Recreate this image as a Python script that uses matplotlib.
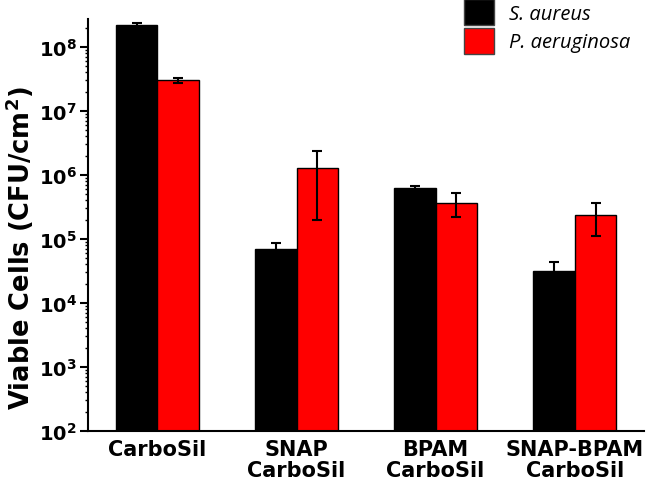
import numpy as np
import matplotlib.pyplot as plt
from matplotlib.ticker import LogLocator, FuncFormatter, NullFormatter
from matplotlib.patches import Patch

plt.rcParams['font.family'] = 'DejaVu Sans'
plt.rcParams['mathtext.fontset'] = 'custom'
plt.rcParams['mathtext.rm'] = 'DejaVu Sans:bold'
plt.rcParams['mathtext.bf'] = 'DejaVu Sans:bold'

groups = ['CarboSil', 'SNAP\nCarboSil', 'BPAM\nCarboSil', 'SNAP-BPAM\nCarboSil']
series = ['S. aureus', 'P. aeruginosa']
aureus = [2.2e8, 6.9e4, 6.2e5, 3.2e4]
aureus_err = [0.15e8, 1.8e4, 0.5e5, 1.2e4]
aerug = [3.0e7, 1.3e6, 3.7e5, 2.4e5]
aerug_err = [0.3e7, 1.1e6, 1.5e5, 1.3e5]

fig = plt.figure(figsize=(6.56, 4.81), dpi=100)
ax = fig.add_axes([0.134, 0.102, 0.848, 0.856])

x = np.arange(len(groups))
w = 0.3
errkw = dict(ecolor='black', elinewidth=1.5, capsize=3.5, capthick=1.5)
ax.bar(x - w/2, aureus, w, color='black', edgecolor='black', linewidth=1,
       yerr=aureus_err, error_kw=errkw, zorder=2)
ax.bar(x + w/2, aerug, w, color='#ff0000', edgecolor='black', linewidth=1,
       yerr=aerug_err, error_kw=errkw, zorder=2)

ax.set_yscale('log')
ax.set_ylim(1e2, 2.7e8)
ax.set_xlim(-0.5, 3.5)
ax.yaxis.set_major_locator(LogLocator(base=10, numticks=20))
ax.yaxis.set_minor_locator(LogLocator(base=10, subs=np.arange(2, 10), numticks=20))
ax.yaxis.set_major_formatter(FuncFormatter(lambda v, p: r'$\mathbf{10^{%d}}$' % round(np.log10(v))))
ax.yaxis.set_minor_formatter(NullFormatter())
ax.tick_params(axis='y', which='major', length=6, width=1.5, labelsize=14, direction='out', pad=2)
ax.tick_params(axis='y', which='minor', length=2.5, width=1, direction='out')

ax.set_xticks(x)
ax.set_xticklabels(groups, fontsize=15, fontweight='bold', linespacing=1.05)
ax.tick_params(axis='x', length=0, pad=6)

ax.spines['top'].set_visible(False)
ax.spines['right'].set_visible(False)
ax.spines['left'].set_linewidth(1.5)
ax.spines['bottom'].set_linewidth(1.5)

ax.set_ylabel('Viable Cells (CFU/cm$^2$)', fontsize=18.5, fontweight='bold', labelpad=2)
ax.yaxis.label.set_y(0.447)

handles = [Patch(facecolor='black', edgecolor='#444444'),
           Patch(facecolor='#ff0000', edgecolor='#444444')]
fig.legend(handles, series, loc='upper left', bbox_to_anchor=(0.707, 1.0),
           frameon=False, borderpad=0, borderaxespad=0,
           prop={'family': 'Open Sans', 'style': 'italic', 'size': 14.5},
           handlelength=1.5, handleheight=1.62, handletextpad=0.75, labelspacing=0.12)

fig.savefig('out.png', dpi=100)
